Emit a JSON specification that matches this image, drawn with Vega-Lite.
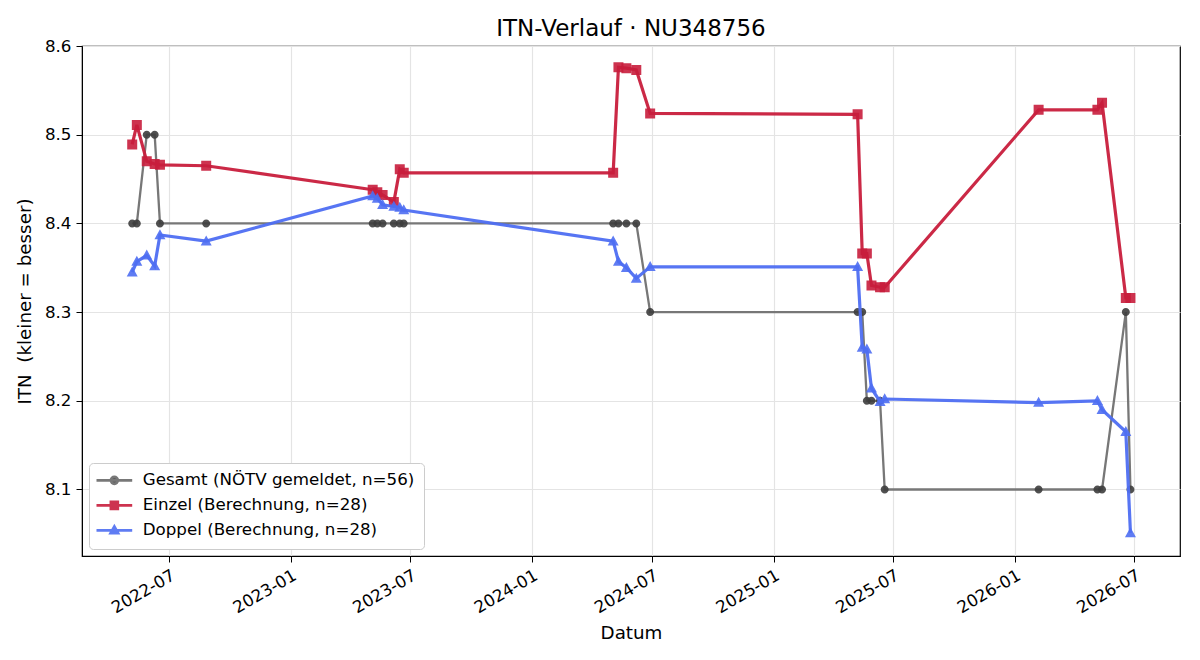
{
  "$schema": "https://vega.github.io/schema/vega-lite/v6.json",
  "width": 1098,
  "height": 510,
  "autosize": {"type": "none"},
  "padding": {"left": 82, "top": 46, "right": 20, "bottom": 104},
  "background": "white",
  "title": {"text": "ITN-Verlauf · NU348756", "fontSize": 23, "font": "DejaVu Sans", "fontWeight": "normal", "color": "#000000", "offset": -3},
  "config": {
    "view": {"stroke": "#000000", "strokeWidth": 1.2},
    "font": "DejaVu Sans",
    "axis": {"labelFont": "DejaVu Sans", "titleFont": "DejaVu Sans", "labelFontSize": 16.7, "titleFontSize": 18.3, "titleFontWeight": "normal", "labelColor": "#000000", "titleColor": "#000000", "tickColor": "#000000", "domainColor": "#000000", "tickSize": 6, "gridColor": "#e4e4e4", "gridWidth": 1.2},
    "legend": {
      "orient": "bottom-left", "offset": 7, "padding": 9, "fillColor": "#ffffff", "strokeColor": "#cccccc", "cornerRadius": 4,
      "labelFont": "DejaVu Sans", "labelFontSize": 16.7, "labelColor": "#000000", "labelLimit": 600,
      "symbolOffset": 8, "labelOffset": 20, "rowPadding": 6, "symbolSize": 49, "symbolStrokeWidth": 2.6
    }
  },
  "data": {"values": [
    {"date": "2022-05-06", "series": "Gesamt (NÖTV gemeldet, n=56)", "itn": 8.4},
    {"date": "2022-05-13", "series": "Gesamt (NÖTV gemeldet, n=56)", "itn": 8.4},
    {"date": "2022-05-28", "series": "Gesamt (NÖTV gemeldet, n=56)", "itn": 8.5},
    {"date": "2022-06-09", "series": "Gesamt (NÖTV gemeldet, n=56)", "itn": 8.5},
    {"date": "2022-06-17", "series": "Gesamt (NÖTV gemeldet, n=56)", "itn": 8.4},
    {"date": "2022-08-26", "series": "Gesamt (NÖTV gemeldet, n=56)", "itn": 8.4},
    {"date": "2023-05-05", "series": "Gesamt (NÖTV gemeldet, n=56)", "itn": 8.4},
    {"date": "2023-05-12", "series": "Gesamt (NÖTV gemeldet, n=56)", "itn": 8.4},
    {"date": "2023-05-20", "series": "Gesamt (NÖTV gemeldet, n=56)", "itn": 8.4},
    {"date": "2023-06-06", "series": "Gesamt (NÖTV gemeldet, n=56)", "itn": 8.4},
    {"date": "2023-06-15", "series": "Gesamt (NÖTV gemeldet, n=56)", "itn": 8.4},
    {"date": "2023-06-21", "series": "Gesamt (NÖTV gemeldet, n=56)", "itn": 8.4},
    {"date": "2024-05-03", "series": "Gesamt (NÖTV gemeldet, n=56)", "itn": 8.4},
    {"date": "2024-05-11", "series": "Gesamt (NÖTV gemeldet, n=56)", "itn": 8.4},
    {"date": "2024-05-23", "series": "Gesamt (NÖTV gemeldet, n=56)", "itn": 8.4},
    {"date": "2024-06-07", "series": "Gesamt (NÖTV gemeldet, n=56)", "itn": 8.4},
    {"date": "2024-06-28", "series": "Gesamt (NÖTV gemeldet, n=56)", "itn": 8.3},
    {"date": "2025-05-08", "series": "Gesamt (NÖTV gemeldet, n=56)", "itn": 8.3},
    {"date": "2025-05-15", "series": "Gesamt (NÖTV gemeldet, n=56)", "itn": 8.3},
    {"date": "2025-05-22", "series": "Gesamt (NÖTV gemeldet, n=56)", "itn": 8.2},
    {"date": "2025-05-29", "series": "Gesamt (NÖTV gemeldet, n=56)", "itn": 8.2},
    {"date": "2025-06-11", "series": "Gesamt (NÖTV gemeldet, n=56)", "itn": 8.2},
    {"date": "2025-06-18", "series": "Gesamt (NÖTV gemeldet, n=56)", "itn": 8.1},
    {"date": "2026-02-06", "series": "Gesamt (NÖTV gemeldet, n=56)", "itn": 8.1},
    {"date": "2026-05-06", "series": "Gesamt (NÖTV gemeldet, n=56)", "itn": 8.1},
    {"date": "2026-05-13", "series": "Gesamt (NÖTV gemeldet, n=56)", "itn": 8.1},
    {"date": "2026-06-18", "series": "Gesamt (NÖTV gemeldet, n=56)", "itn": 8.3},
    {"date": "2026-06-25", "series": "Gesamt (NÖTV gemeldet, n=56)", "itn": 8.1},
    {"date": "2022-05-06", "series": "Einzel (Berechnung, n=28)", "itn": 8.489},
    {"date": "2022-05-13", "series": "Einzel (Berechnung, n=28)", "itn": 8.511},
    {"date": "2022-05-28", "series": "Einzel (Berechnung, n=28)", "itn": 8.470},
    {"date": "2022-06-09", "series": "Einzel (Berechnung, n=28)", "itn": 8.467},
    {"date": "2022-06-17", "series": "Einzel (Berechnung, n=28)", "itn": 8.466},
    {"date": "2022-08-26", "series": "Einzel (Berechnung, n=28)", "itn": 8.465},
    {"date": "2023-05-05", "series": "Einzel (Berechnung, n=28)", "itn": 8.438},
    {"date": "2023-05-12", "series": "Einzel (Berechnung, n=28)", "itn": 8.435},
    {"date": "2023-05-20", "series": "Einzel (Berechnung, n=28)", "itn": 8.432},
    {"date": "2023-06-06", "series": "Einzel (Berechnung, n=28)", "itn": 8.424},
    {"date": "2023-06-15", "series": "Einzel (Berechnung, n=28)", "itn": 8.461},
    {"date": "2023-06-21", "series": "Einzel (Berechnung, n=28)", "itn": 8.457},
    {"date": "2024-05-03", "series": "Einzel (Berechnung, n=28)", "itn": 8.457},
    {"date": "2024-05-11", "series": "Einzel (Berechnung, n=28)", "itn": 8.576},
    {"date": "2024-05-23", "series": "Einzel (Berechnung, n=28)", "itn": 8.575},
    {"date": "2024-06-07", "series": "Einzel (Berechnung, n=28)", "itn": 8.573},
    {"date": "2024-06-28", "series": "Einzel (Berechnung, n=28)", "itn": 8.524},
    {"date": "2025-05-08", "series": "Einzel (Berechnung, n=28)", "itn": 8.523},
    {"date": "2025-05-15", "series": "Einzel (Berechnung, n=28)", "itn": 8.366},
    {"date": "2025-05-22", "series": "Einzel (Berechnung, n=28)", "itn": 8.366},
    {"date": "2025-05-29", "series": "Einzel (Berechnung, n=28)", "itn": 8.330},
    {"date": "2025-06-11", "series": "Einzel (Berechnung, n=28)", "itn": 8.328},
    {"date": "2025-06-18", "series": "Einzel (Berechnung, n=28)", "itn": 8.328},
    {"date": "2026-02-06", "series": "Einzel (Berechnung, n=28)", "itn": 8.528},
    {"date": "2026-05-06", "series": "Einzel (Berechnung, n=28)", "itn": 8.528},
    {"date": "2026-05-13", "series": "Einzel (Berechnung, n=28)", "itn": 8.536},
    {"date": "2026-06-18", "series": "Einzel (Berechnung, n=28)", "itn": 8.316},
    {"date": "2026-06-25", "series": "Einzel (Berechnung, n=28)", "itn": 8.316},
    {"date": "2022-05-06", "series": "Doppel (Berechnung, n=28)", "itn": 8.345},
    {"date": "2022-05-13", "series": "Doppel (Berechnung, n=28)", "itn": 8.357},
    {"date": "2022-05-28", "series": "Doppel (Berechnung, n=28)", "itn": 8.364},
    {"date": "2022-06-09", "series": "Doppel (Berechnung, n=28)", "itn": 8.352},
    {"date": "2022-06-17", "series": "Doppel (Berechnung, n=28)", "itn": 8.387},
    {"date": "2022-08-26", "series": "Doppel (Berechnung, n=28)", "itn": 8.380},
    {"date": "2023-05-05", "series": "Doppel (Berechnung, n=28)", "itn": 8.431},
    {"date": "2023-05-12", "series": "Doppel (Berechnung, n=28)", "itn": 8.428},
    {"date": "2023-05-20", "series": "Doppel (Berechnung, n=28)", "itn": 8.421},
    {"date": "2023-06-06", "series": "Doppel (Berechnung, n=28)", "itn": 8.419},
    {"date": "2023-06-15", "series": "Doppel (Berechnung, n=28)", "itn": 8.418},
    {"date": "2023-06-21", "series": "Doppel (Berechnung, n=28)", "itn": 8.415},
    {"date": "2024-05-03", "series": "Doppel (Berechnung, n=28)", "itn": 8.380},
    {"date": "2024-05-11", "series": "Doppel (Berechnung, n=28)", "itn": 8.357},
    {"date": "2024-05-23", "series": "Doppel (Berechnung, n=28)", "itn": 8.350},
    {"date": "2024-06-07", "series": "Doppel (Berechnung, n=28)", "itn": 8.338},
    {"date": "2024-06-28", "series": "Doppel (Berechnung, n=28)", "itn": 8.351},
    {"date": "2025-05-08", "series": "Doppel (Berechnung, n=28)", "itn": 8.351},
    {"date": "2025-05-15", "series": "Doppel (Berechnung, n=28)", "itn": 8.260},
    {"date": "2025-05-22", "series": "Doppel (Berechnung, n=28)", "itn": 8.258},
    {"date": "2025-05-29", "series": "Doppel (Berechnung, n=28)", "itn": 8.214},
    {"date": "2025-06-11", "series": "Doppel (Berechnung, n=28)", "itn": 8.199},
    {"date": "2025-06-18", "series": "Doppel (Berechnung, n=28)", "itn": 8.202},
    {"date": "2026-02-06", "series": "Doppel (Berechnung, n=28)", "itn": 8.198},
    {"date": "2026-05-06", "series": "Doppel (Berechnung, n=28)", "itn": 8.200},
    {"date": "2026-05-13", "series": "Doppel (Berechnung, n=28)", "itn": 8.190},
    {"date": "2026-06-18", "series": "Doppel (Berechnung, n=28)", "itn": 8.165},
    {"date": "2026-06-25", "series": "Doppel (Berechnung, n=28)", "itn": 8.051}
  ]},
  "encoding": {
    "x": {
      "field": "date", "type": "temporal", "title": "Datum",
      "scale": {"domain": [{"year": 2022, "month": 2, "date": 19}, {"year": 2026, "month": 9, "date": 8}]},
      "axis": {
        "values": [
          {"year": 2022, "month": 7, "date": 1}, {"year": 2023, "month": 1, "date": 1},
          {"year": 2023, "month": 7, "date": 1}, {"year": 2024, "month": 1, "date": 1},
          {"year": 2024, "month": 7, "date": 1}, {"year": 2025, "month": 1, "date": 1},
          {"year": 2025, "month": 7, "date": 1}, {"year": 2026, "month": 1, "date": 1},
          {"year": 2026, "month": 7, "date": 1}
        ],
        "format": "%Y-%m", "labelAngle": -30, "labelAlign": "right", "labelBaseline": "top",
        "labelPadding": 5, "grid": true, "titlePadding": 8
      }
    },
    "y": {
      "field": "itn", "type": "quantitative", "title": "ITN\u00a0 (kleiner = besser)",
      "scale": {"domain": [8.025, 8.6], "nice": false, "zero": false},
      "axis": {"values": [8.1, 8.2, 8.3, 8.4, 8.5, 8.6], "format": ".1f", "grid": true, "labelPadding": 5, "titlePadding": 10}
    }
  },
  "layer": [
    {
      "transform": [{"filter": "datum.series === 'Gesamt (NÖTV gemeldet, n=56)'"}],
      "mark": {"type": "line", "color": "#777777", "strokeWidth": 2.3}
    },
    {
      "transform": [{"filter": "datum.series === 'Gesamt (NÖTV gemeldet, n=56)'"}],
      "mark": {"type": "point", "filled": true, "opacity": 0.9, "size": 64, "strokeWidth": 0},
      "encoding": {
        "color": {"field": "series", "type": "nominal", "scale": {"domain": ["Gesamt (NÖTV gemeldet, n=56)", "Einzel (Berechnung, n=28)", "Doppel (Berechnung, n=28)"], "range": ["#3d3d3d", "#C81D3C", "#4E6EF2"]}, "legend": {"title": null}},
        "stroke": {"field": "series", "type": "nominal", "scale": {"domain": ["Gesamt (NÖTV gemeldet, n=56)", "Einzel (Berechnung, n=28)", "Doppel (Berechnung, n=28)"], "range": ["#6a6a6a", "#C81D3C", "#4E6EF2"]}, "legend": {"title": null}},
        "shape": {"field": "series", "type": "nominal", "scale": {"domain": ["Gesamt (NÖTV gemeldet, n=56)", "Einzel (Berechnung, n=28)", "Doppel (Berechnung, n=28)"], "range": ["M-1,0A1,1,0,1,1,1,0A1,1,0,1,1,-1,0ZM-5.1,0H5.1", "M-1,-1H1V1H-1ZM-5.1,0H5.1", "M0,-1.15L1.1,0.85H-1.1ZM-5.1,0H5.1"]}, "legend": {"title": null}}
      }
    },
    {
      "transform": [{"filter": "datum.series === 'Einzel (Berechnung, n=28)'"}],
      "mark": {"type": "line", "color": "#C81D3C", "opacity": 0.95, "strokeWidth": 3.2}
    },
    {
      "transform": [{"filter": "datum.series === 'Einzel (Berechnung, n=28)'"}],
      "mark": {"type": "point", "filled": true, "opacity": 0.9, "size": 100, "strokeWidth": 0},
      "encoding": {
        "color": {"field": "series", "type": "nominal", "scale": {"domain": ["Gesamt (NÖTV gemeldet, n=56)", "Einzel (Berechnung, n=28)", "Doppel (Berechnung, n=28)"], "range": ["#3d3d3d", "#C81D3C", "#4E6EF2"]}},
        "stroke": {"field": "series", "type": "nominal", "scale": {"domain": ["Gesamt (NÖTV gemeldet, n=56)", "Einzel (Berechnung, n=28)", "Doppel (Berechnung, n=28)"], "range": ["#6a6a6a", "#C81D3C", "#4E6EF2"]}},
        "shape": {"field": "series", "type": "nominal", "scale": {"domain": ["Gesamt (NÖTV gemeldet, n=56)", "Einzel (Berechnung, n=28)", "Doppel (Berechnung, n=28)"], "range": ["M-1,0A1,1,0,1,1,1,0A1,1,0,1,1,-1,0ZM-5.1,0H5.1", "M-1,-1H1V1H-1ZM-5.1,0H5.1", "M0,-1.15L1.1,0.85H-1.1ZM-5.1,0H5.1"]}}
      }
    },
    {
      "transform": [{"filter": "datum.series === 'Doppel (Berechnung, n=28)'"}],
      "mark": {"type": "line", "color": "#4E6EF2", "opacity": 0.95, "strokeWidth": 3.2}
    },
    {
      "transform": [{"filter": "datum.series === 'Doppel (Berechnung, n=28)'"}],
      "mark": {"type": "point", "filled": true, "opacity": 0.9, "size": 100, "strokeWidth": 0},
      "encoding": {
        "color": {"field": "series", "type": "nominal", "scale": {"domain": ["Gesamt (NÖTV gemeldet, n=56)", "Einzel (Berechnung, n=28)", "Doppel (Berechnung, n=28)"], "range": ["#3d3d3d", "#C81D3C", "#4E6EF2"]}},
        "stroke": {"field": "series", "type": "nominal", "scale": {"domain": ["Gesamt (NÖTV gemeldet, n=56)", "Einzel (Berechnung, n=28)", "Doppel (Berechnung, n=28)"], "range": ["#6a6a6a", "#C81D3C", "#4E6EF2"]}},
        "shape": {"field": "series", "type": "nominal", "scale": {"domain": ["Gesamt (NÖTV gemeldet, n=56)", "Einzel (Berechnung, n=28)", "Doppel (Berechnung, n=28)"], "range": ["M-1,0A1,1,0,1,1,1,0A1,1,0,1,1,-1,0ZM-5.1,0H5.1", "M-1,-1H1V1H-1ZM-5.1,0H5.1", "M0,-1.15L1.1,0.85H-1.1ZM-5.1,0H5.1"]}}
      }
    }
  ],
  "resolve": {"scale": {"color": "shared", "shape": "shared", "stroke": "shared"}}
}
